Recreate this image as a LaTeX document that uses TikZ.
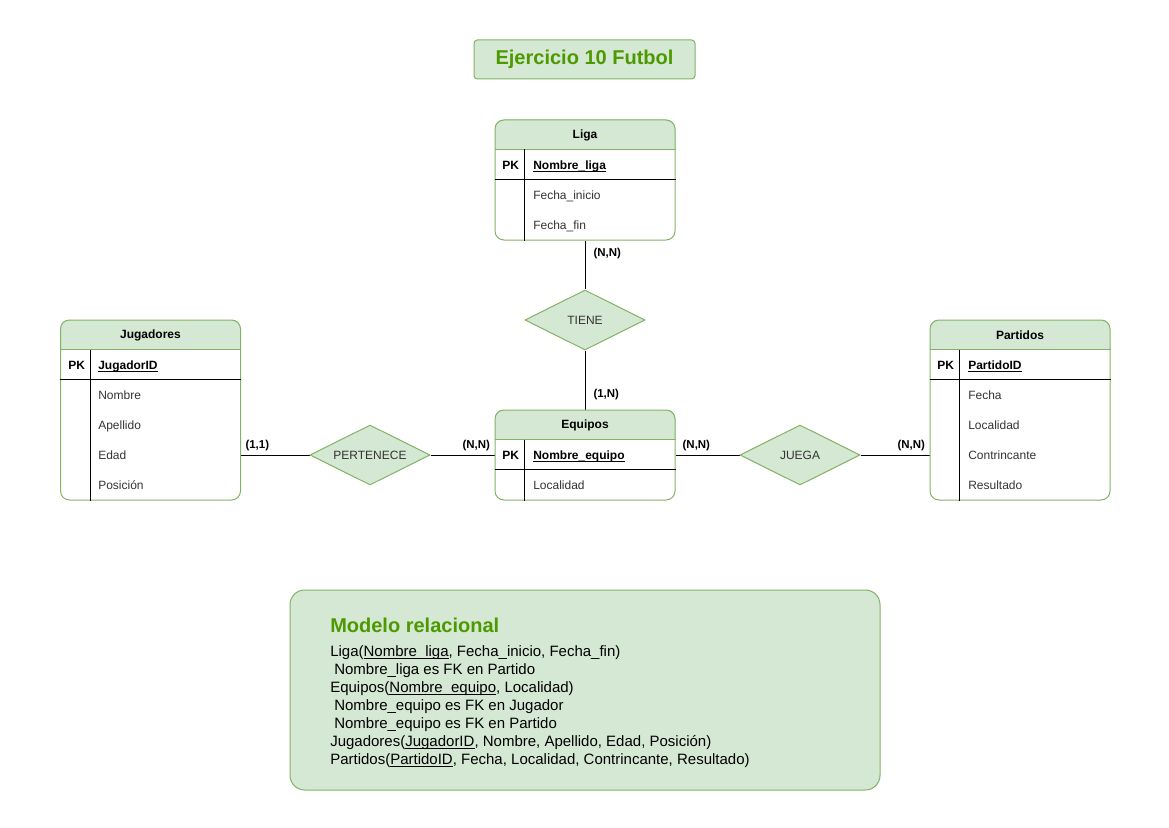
\documentclass[tikz,border=0pt]{standalone}
\usepackage{fontspec}
\setmainfont{Liberation Sans}
\usepackage{xcolor}
\usetikzlibrary{backgrounds}
\usetikzlibrary{positioning}
\usetikzlibrary{shapes.geometric}
\definecolor{verdeFondo}{HTML}{D5E8D4}
\definecolor{verdeBorde}{HTML}{82B366}
\definecolor{verdeTexto}{HTML}{4D9900}
\colorlet{filaCol}{black!80}
\newcommand{\subrayado}[1]{\underline{\smash{#1}}}

\tikzset{
  tabla/.style={draw=verdeBorde, line width=0.75pt, rounded corners=6.75pt, minimum width=135pt, inner sep=0pt},
  cabecera/.style={font=\bfseries\fontsize{9}{11}\selectfont},
  clave/.style={anchor=west, inner sep=0pt, text height=6.45pt, text depth=0pt, font=\bfseries\fontsize{9}{11}\selectfont},
  fila/.style={anchor=west, inner sep=0pt, text height=6.45pt, text depth=0pt, text=filaCol, font=\fontsize{9}{11}\selectfont},
  relacion/.style={diamond, aspect=2, draw=verdeBorde, fill=verdeFondo, line width=0.75pt, minimum width=90pt, minimum height=45pt, inner sep=0pt, text=filaCol, font=\fontsize{9}{11}\selectfont},
  card/.style={inner sep=3pt, font=\bfseries\fontsize{8.6}{10}\selectfont},
  linea/.style={line width=0.75pt},
  separador/.style={line width=0.75pt, black}
}

\begin{document}
\begin{tikzpicture}[x=0.75pt, y=-0.75pt]
%--------------------------------------------------
\useasboundingbox (0,0) rectangle (1169,827);

% title box on top
\node[draw=verdeBorde, fill=verdeFondo, line width=0.75pt, rounded corners=2.5pt, minimum width=165.75pt, minimum height=29.25pt, text=verdeTexto, font=\bfseries\fontsize{15}{18}\selectfont] (titulo) at (584.5,59.5) {Ejercicio 10 Futbol};


% table Liga
\node[tabla, minimum height=90pt] (liga) at (585,180) {};
\node[cabecera] (ligaCab) at (585,135) {Liga};
\node[clave] (ligaPK) at (502,165) {PK};
\node[clave] (ligaId) at (533,165) {\subrayado{Nombre\_liga}};
\foreach \campo [count=\i] in {Fecha\_inicio, Fecha\_fin}
  \node[fila] (liga\i) at (533,{165+30*\i}) {\campo};
\draw[linea, verdeBorde] ([yshift=-22.5pt]liga.north west) -- ([yshift=-22.5pt]liga.north east);
\draw[separador] ([yshift=-45pt]liga.north west) -- ([yshift=-45pt]liga.north east);
\draw[separador] ([xshift=22.5pt, yshift=-22.5pt]liga.north west) -- ([xshift=22.5pt]liga.south west);


% table Jugadores
\node[tabla, minimum height=135pt] (jugadores) at (150.5,410) {};
\node[cabecera] (jugadoresCab) at (150.5,335) {Jugadores};
\node[clave] (jugadoresPK) at (68,365) {PK};
\node[clave] (jugadoresId) at (98,365) {\subrayado{JugadorID}};
\foreach \campo [count=\i] in {Nombre, Apellido, Edad, Posición}
  \node[fila] (jugadores\i) at (98,{365+30*\i}) {\campo};
\draw[linea, verdeBorde] ([yshift=-22.5pt]jugadores.north west) -- ([yshift=-22.5pt]jugadores.north east);
\draw[separador] ([yshift=-45pt]jugadores.north west) -- ([yshift=-45pt]jugadores.north east);
\draw[separador] ([xshift=22.5pt, yshift=-22.5pt]jugadores.north west) -- ([xshift=22.5pt]jugadores.south west);


% table Equipos
\node[tabla, minimum height=67.5pt] (equipos) at (585,455) {};
\node[cabecera] (equiposCab) at (585,425) {Equipos};
\node[clave] (equiposPK) at (502,455) {PK};
\node[clave] (equiposId) at (533,455) {\subrayado{Nombre\_equipo}};
\node[fila] (equipos1) at (533,485) {Localidad};
\draw[linea, verdeBorde] ([yshift=-22.5pt]equipos.north west) -- ([yshift=-22.5pt]equipos.north east);
\draw[separador] ([yshift=-45pt]equipos.north west) -- ([yshift=-45pt]equipos.north east);
\draw[separador] ([xshift=22.5pt, yshift=-22.5pt]equipos.north west) -- ([xshift=22.5pt]equipos.south west);


% table Partidos
\node[tabla, minimum height=135pt] (partidos) at (1020,410) {};
\node[cabecera] (partidosCab) at (1020,335) {Partidos};
\node[clave] (partidosPK) at (937,365) {PK};
\node[clave] (partidosId) at (968,365) {\subrayado{PartidoID}};
\foreach \campo [count=\i] in {Fecha, Localidad, Contrincante, Resultado}
  \node[fila] (partidos\i) at (968,{365+30*\i}) {\campo};
\draw[linea, verdeBorde] ([yshift=-22.5pt]partidos.north west) -- ([yshift=-22.5pt]partidos.north east);
\draw[separador] ([yshift=-45pt]partidos.north west) -- ([yshift=-45pt]partidos.north east);
\draw[separador] ([xshift=22.5pt, yshift=-22.5pt]partidos.north west) -- ([xshift=22.5pt]partidos.south west);


% relationships
\node[relacion] (tiene) at (585,320) {TIENE};
\node[relacion] (pertenece) at (370,455) {PERTENECE};
\node[relacion] (juega) at (800,455) {JUEGA};


\begin{scope}[on background layer]
% green heads of the tables
\foreach \t in {liga, jugadores, equipos, partidos} {
  \begin{scope}
  \clip[rounded corners=6.75pt] (\t.south west) rectangle (\t.north east);
  \fill[verdeFondo] (\t.north west) rectangle ([yshift=-22.5pt]\t.north east);
  \end{scope}
}

% Drawing lines between tables and relationships
\draw[linea] (liga) -- node[card, pos=0.26, anchor=west, xshift=3pt] (cardLiga) {(N,N)} (tiene);
\draw[linea] (tiene) -- node[card, pos=0.75, anchor=west, xshift=3pt] (cardTiene) {(1,N)} (equipos);
\draw[linea] (pertenece.west -| jugadores.east) -- node[card, pos=0, anchor=south west] (cardJugadores) {(1,1)} (pertenece);
\draw[linea] (pertenece) -- node[card, pos=1, anchor=south east] (cardPertenece) {(N,N)} (equipos);
\draw[linea] (equipos) -- node[card, pos=0, anchor=south west, xshift=2pt] (cardEquipos) {(N,N)} (juega);
\draw[linea] (juega) -- node[card, pos=1, anchor=south east] (cardPartidos) {(N,N)} (juega -| partidos.west);
\end{scope}


% relational model box
\node[draw=verdeBorde, fill=verdeFondo, line width=0.75pt, rounded corners=11pt, minimum width=442.5pt, minimum height=150pt] (modelo) at (585,690) {};
\node[anchor=west, inner sep=0pt, text=verdeTexto, font=\bfseries\fontsize{15}{18}\selectfont] (modeloTitulo) at (330,625) {Modelo relacional};
\node[anchor=north west, align=left, inner sep=0pt, font=\fontsize{11.25}{13.5}\selectfont] (modeloTexto) at (330,645) {Liga(\subrayado{Nombre\_liga}, Fecha\_inicio, Fecha\_fin)\\
\hspace*{3pt}Nombre\_liga es FK en Partido\\
Equipos(\subrayado{Nombre\_equipo}, Localidad)\\
\hspace*{3pt}Nombre\_equipo es FK en Jugador\\
\hspace*{3pt}Nombre\_equipo es FK en Partido\\
Jugadores(\subrayado{JugadorID}, Nombre, Apellido, Edad, Posición)\\
Partidos(\subrayado{PartidoID}, Fecha, Localidad, Contrincante, Resultado)};

%--------------------------------------------------
\end{tikzpicture}
\end{document}
